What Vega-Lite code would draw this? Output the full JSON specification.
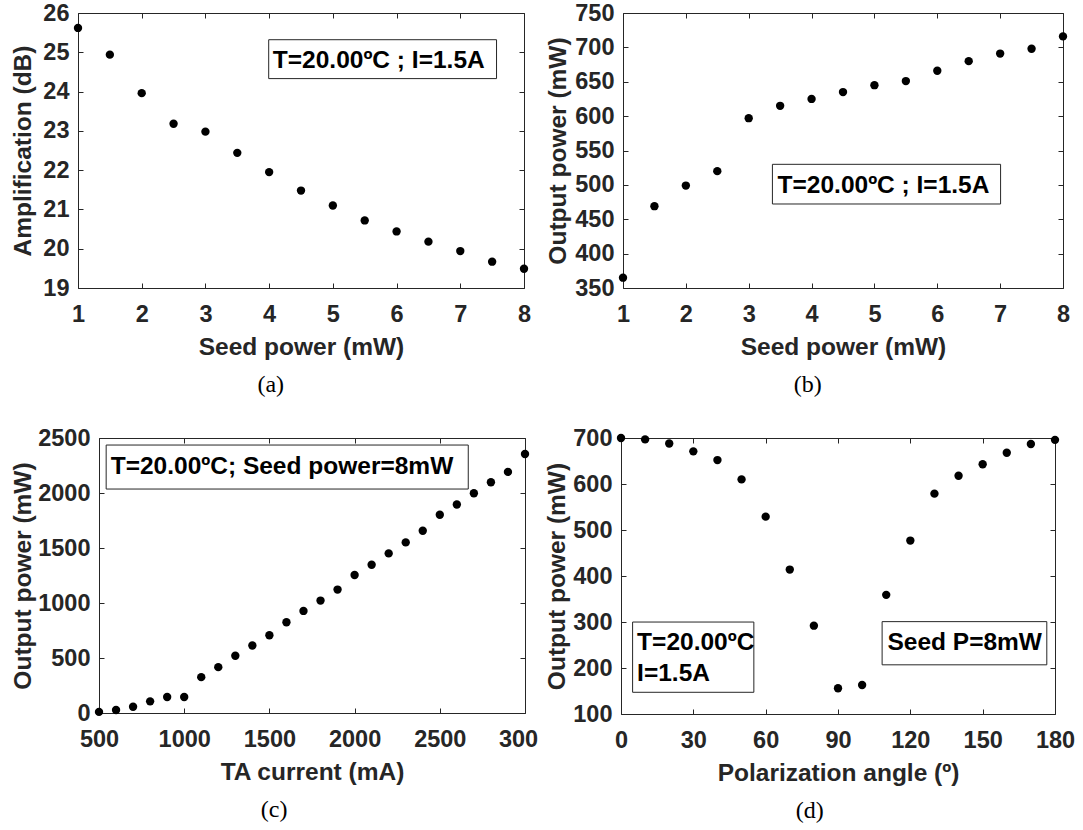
{
  "$schema": "https://vega.github.io/schema/vega-lite/v6.json",
  "background": "white",
  "padding": {"left": 10, "top": 0, "right": 0, "bottom": 0},
  "config": {
    "font": "Liberation Sans",
    "view": {"stroke": "#262626", "strokeWidth": 1},
    "axis": {
      "labelFont": "Liberation Sans", "labelFontSize": 23.5, "labelFontWeight": "bold", "labelColor": "#262626",
      "titleFont": "Liberation Sans", "titleFontSize": 24.5, "titleFontWeight": "bold", "titleColor": "#262626",
      "tickColor": "#262626", "tickSize": -5, "tickWidth": 1, "domain": false, "domainColor": "#262626", "domainWidth": 1, "grid": false,
      "labelFlush": false, "labelOverlap": false
    },
    "axisX": {"labelPadding": 19, "titlePadding": 10},
    "axisY": {"labelPadding": 14},
    "title": {"font": "Liberation Serif", "fontSize": 24, "fontWeight": "normal", "color": "black", "orient": "bottom", "offset": 14, "anchor": "middle", "frame": "bounds"}
  },
  "datasets": {
    "a": [
      {"seed": 1, "amp": 25.62}, {"seed": 1.5, "amp": 24.94}, {"seed": 2, "amp": 23.96}, {"seed": 2.5, "amp": 23.18},
      {"seed": 3, "amp": 22.98}, {"seed": 3.5, "amp": 22.44}, {"seed": 4, "amp": 21.95}, {"seed": 4.5, "amp": 21.48},
      {"seed": 5, "amp": 21.10}, {"seed": 5.5, "amp": 20.72}, {"seed": 6, "amp": 20.44}, {"seed": 6.5, "amp": 20.18},
      {"seed": 7, "amp": 19.94}, {"seed": 7.5, "amp": 19.67}, {"seed": 8, "amp": 19.49}
    ],
    "b": [
      {"seed": 1, "power": 365}, {"seed": 1.5, "power": 469}, {"seed": 2, "power": 499}, {"seed": 2.5, "power": 520},
      {"seed": 3, "power": 597}, {"seed": 3.5, "power": 615}, {"seed": 4, "power": 625}, {"seed": 4.5, "power": 635},
      {"seed": 5, "power": 645}, {"seed": 5.5, "power": 651}, {"seed": 6, "power": 666}, {"seed": 6.5, "power": 680},
      {"seed": 7, "power": 691}, {"seed": 7.5, "power": 698}, {"seed": 8, "power": 716}
    ],
    "c": [
      {"current": 500, "power": 10}, {"current": 600, "power": 27}, {"current": 700, "power": 57}, {"current": 800, "power": 106},
      {"current": 900, "power": 145}, {"current": 1000, "power": 145}, {"current": 1100, "power": 326}, {"current": 1200, "power": 417},
      {"current": 1300, "power": 520}, {"current": 1400, "power": 614}, {"current": 1500, "power": 707}, {"current": 1600, "power": 825},
      {"current": 1700, "power": 928}, {"current": 1800, "power": 1022}, {"current": 1900, "power": 1122}, {"current": 2000, "power": 1255},
      {"current": 2100, "power": 1348}, {"current": 2200, "power": 1451}, {"current": 2300, "power": 1551}, {"current": 2400, "power": 1657},
      {"current": 2500, "power": 1802}, {"current": 2600, "power": 1895}, {"current": 2700, "power": 1998}, {"current": 2800, "power": 2098},
      {"current": 2900, "power": 2192}, {"current": 3000, "power": 2355}
    ],
    "d": [
      {"angle": 0, "power": 700}, {"angle": 10, "power": 697}, {"angle": 20, "power": 688}, {"angle": 30, "power": 671},
      {"angle": 40, "power": 652}, {"angle": 50, "power": 610}, {"angle": 60, "power": 529}, {"angle": 70, "power": 414},
      {"angle": 80, "power": 292}, {"angle": 90, "power": 156}, {"angle": 100, "power": 163}, {"angle": 110, "power": 359},
      {"angle": 120, "power": 477}, {"angle": 130, "power": 579}, {"angle": 140, "power": 618}, {"angle": 150, "power": 643},
      {"angle": 160, "power": 668}, {"angle": 170, "power": 687}, {"angle": 180, "power": 696}
    ]
  },
  "spacing": 27,
  "vconcat": [
    {
      "spacing": 13,
      "hconcat": [
        {
          "width": 446, "height": 275,
          "title": {"text": "(a)", "frame": "bounds"},
          "layer": [
            {
              "data": {"values": [{}]},
              "mark": {"type": "rect", "fill": "white", "stroke": "#262626", "strokeWidth": 1},
              "encoding": {
                "x": {"datum": 3.993, "type": "quantitative", "scale": {"domain": [1, 8], "nice": false, "zero": false},
                      "axis": {"orient": "top", "labels": false, "title": null, "values": [1, 2, 3, 4, 5, 6, 7, 8]}},
                "x2": {"datum": 7.569},
                "y": {"datum": 25.32, "type": "quantitative", "scale": {"domain": [19, 26], "nice": false, "zero": false},
                      "axis": {"orient": "right", "labels": false, "title": null, "values": [19, 20, 21, 22, 23, 24, 25, 26]}},
                "y2": {"datum": 24.33}
              }
            },
            {
              "data": {"values": [{}]},
              "mark": {"type": "text", "text": "T=20.00ºC ; I=1.5A", "align": "left", "baseline": "alphabetic", "font": "Liberation Sans", "fontWeight": "bold", "fontSize": 24.5, "color": "black"},
              "encoding": {
                "x": {"datum": 4.058, "type": "quantitative", "axis": null},
                "y": {"datum": 24.608, "type": "quantitative", "axis": null}
              }
            },
            {
              "data": {"name": "a"},
              "mark": {"type": "point", "filled": true, "size": 70, "color": "black", "opacity": 1},
              "encoding": {
                "x": {"field": "seed", "type": "quantitative",
                      "axis": {"orient": "bottom", "title": "Seed power (mW)", "values": [1, 2, 3, 4, 5, 6, 7, 8], "format": "d"}},
                "y": {"field": "amp", "type": "quantitative",
                      "axis": {"orient": "left", "title": "Amplification (dB)", "values": [19, 20, 21, 22, 23, 24, 25, 26], "format": "d", "titlePadding": 7}}
              }
            }
          ],
          "resolve": {"axis": {"x": "independent", "y": "independent"}}
        },
        {
          "width": 440, "height": 275,
          "title": {"text": "(b)", "frame": "bounds"},
          "layer": [
            {
              "data": {"values": [{}]},
              "mark": {"type": "rect", "fill": "white", "stroke": "#262626", "strokeWidth": 1},
              "encoding": {
                "x": {"datum": 3.377, "type": "quantitative", "scale": {"domain": [1, 8], "nice": false, "zero": false},
                      "axis": {"orient": "top", "labels": false, "title": null, "values": [1, 2, 3, 4, 5, 6, 7, 8]}},
                "x2": {"datum": 7.007},
                "y": {"datum": 529.9, "type": "quantitative", "scale": {"domain": [350, 750], "nice": false, "zero": false},
                      "axis": {"orient": "right", "labels": false, "title": null, "values": [350, 400, 450, 500, 550, 600, 650, 700, 750]}},
                "y2": {"datum": 472.2}
              }
            },
            {
              "data": {"values": [{}]},
              "mark": {"type": "text", "text": "T=20.00ºC ; I=1.5A", "align": "left", "baseline": "alphabetic", "font": "Liberation Sans", "fontWeight": "bold", "fontSize": 24.5, "color": "black"},
              "encoding": {
                "x": {"datum": 3.459, "type": "quantitative", "axis": null},
                "y": {"datum": 488.6, "type": "quantitative", "axis": null}
              }
            },
            {
              "data": {"name": "b"},
              "mark": {"type": "point", "filled": true, "size": 70, "color": "black", "opacity": 1},
              "encoding": {
                "x": {"field": "seed", "type": "quantitative",
                      "axis": {"orient": "bottom", "title": "Seed power (mW)", "values": [1, 2, 3, 4, 5, 6, 7, 8], "format": "d"}},
                "y": {"field": "power", "type": "quantitative",
                      "axis": {"orient": "left", "title": "Output power (mW)", "values": [350, 400, 450, 500, 550, 600, 650, 700, 750], "format": "d", "titlePadding": 4}}
              }
            }
          ],
          "resolve": {"axis": {"x": "independent", "y": "independent"}}
        }
      ]
    },
    {
      "spacing": 6,
      "hconcat": [
        {
          "width": 447, "height": 275,
          "view": {"stroke": null},
          "title": {"text": "(c)", "frame": "bounds"},
          "layer": [
            {
              "data": {"values": [{}]},
              "mark": {"type": "rect", "fill": "white", "stroke": "#262626", "strokeWidth": 1},
              "encoding": {
                "x": {"datum": 542, "type": "quantitative", "scale": {"domain": [500, 3000], "nice": false, "zero": false, "range": [21, 447]},
                      "axis": {"orient": "top", "labels": false, "title": null, "domain": true, "values": [500, 1000, 1500, 2000, 2500, 3000]}},
                "x2": {"datum": 2667},
                "y": {"datum": 2436, "type": "quantitative", "scale": {"domain": [0, 2500], "nice": false, "zero": false},
                      "axis": {"orient": "right", "labels": false, "title": null, "domain": true, "values": [0, 500, 1000, 1500, 2000, 2500]}},
                "y2": {"datum": 2036}
              }
            },
            {
              "data": {"values": [{}]},
              "mark": {"type": "text", "text": "T=20.00ºC; Seed power=8mW", "align": "left", "baseline": "alphabetic", "font": "Liberation Sans", "fontWeight": "bold", "fontSize": 24.5, "color": "black"},
              "encoding": {
                "x": {"datum": 568.7, "type": "quantitative", "axis": null},
                "y": {"datum": 2175, "type": "quantitative", "axis": null}
              }
            },
            {
              "data": {"name": "c"},
              "mark": {"type": "point", "filled": true, "size": 70, "color": "black", "opacity": 1},
              "encoding": {
                "x": {"field": "current", "type": "quantitative",
                      "axis": {"orient": "bottom", "title": "TA current (mA)", "domain": true, "values": [500, 1000, 1500, 2000, 2500, 3000], "format": "d",
                               "labelExpr": "datum.value == 3000 ? '300' : datum.label",
                               "labelOffset": {"condition": {"test": "datum.value == 3000", "value": -7}, "value": 0}}},
                "y": {"field": "power", "type": "quantitative",
                      "axis": {"orient": "left", "offset": -21, "domain": true, "title": "Output power (mW)", "values": [0, 500, 1000, 1500, 2000, 2500], "format": "d", "titlePadding": 2}}
              }
            }
          ],
          "resolve": {"axis": {"x": "independent", "y": "independent"}}
        },
        {
          "width": 434, "height": 276,
          "title": {"text": "(d)", "frame": "bounds"},
          "layer": [
            {
              "data": {"values": [{}]},
              "mark": {"type": "rect", "fill": "white", "stroke": "#262626", "strokeWidth": 1},
              "encoding": {
                "x": {"datum": 4.81, "type": "quantitative", "scale": {"domain": [0, 180], "nice": false, "zero": false},
                      "axis": {"orient": "top", "labels": false, "title": null, "values": [0, 30, 60, 90, 120, 150, 180]}},
                "x2": {"datum": 55.1},
                "y": {"datum": 299.9, "type": "quantitative", "scale": {"domain": [100, 700], "nice": false, "zero": false},
                      "axis": {"orient": "right", "labels": false, "title": null, "values": [100, 200, 300, 400, 500, 600, 700]}},
                "y2": {"datum": 147.2}
              }
            },
            {
              "data": {"values": [{}]},
              "mark": {"type": "rect", "fill": "white", "stroke": "#262626", "strokeWidth": 1},
              "encoding": {
                "x": {"datum": 108.3, "type": "quantitative", "axis": null},
                "x2": {"datum": 176.6},
                "y": {"datum": 300.8, "type": "quantitative", "axis": null},
                "y2": {"datum": 206.9}
              }
            },
            {
              "data": {"values": [{}]},
              "mark": {"type": "text", "text": ["T=20.00ºC", "I=1.5A"], "lineHeight": 31, "align": "left", "baseline": "alphabetic", "font": "Liberation Sans", "fontWeight": "bold", "fontSize": 24.5, "color": "black"},
              "encoding": {
                "x": {"datum": 6.68, "type": "quantitative", "axis": null},
                "y": {"datum": 240.1, "type": "quantitative", "axis": null}
              }
            },
            {
              "data": {"values": [{}]},
              "mark": {"type": "text", "text": "Seed P=8mW", "align": "left", "baseline": "alphabetic", "font": "Liberation Sans", "fontWeight": "bold", "fontSize": 24.5, "color": "black"},
              "encoding": {
                "x": {"datum": 110.5, "type": "quantitative", "axis": null},
                "y": {"datum": 240.1, "type": "quantitative", "axis": null}
              }
            },
            {
              "data": {"name": "d"},
              "mark": {"type": "point", "filled": true, "size": 70, "color": "black", "opacity": 1},
              "encoding": {
                "x": {"field": "angle", "type": "quantitative",
                      "axis": {"orient": "bottom", "title": "Polarization angle (º)", "values": [0, 30, 60, 90, 120, 150, 180], "format": "d"}},
                "y": {"field": "power", "type": "quantitative",
                      "axis": {"orient": "left", "title": "Output power (mW)", "values": [100, 200, 300, 400, 500, 600, 700], "format": "d", "titlePadding": 3}}
              }
            }
          ],
          "resolve": {"axis": {"x": "independent", "y": "independent"}}
        }
      ]
    }
  ]
}
